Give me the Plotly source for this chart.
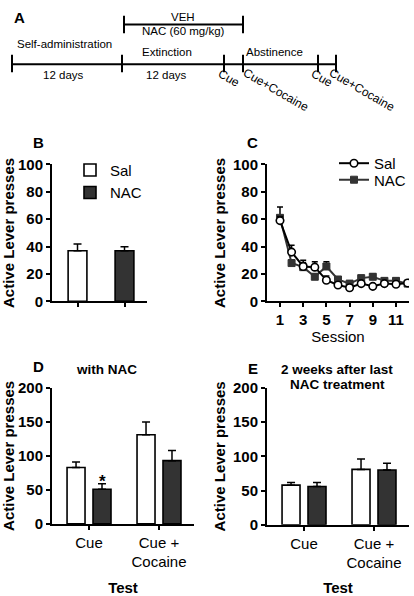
import plotly.graph_objects as go

W, H = 414, 596
FONT = "Liberation Sans, Arial, sans-serif"
DARK = "#333333"

# ---------------- data ----------------
b_groups = ["Sal", "NAC"]
b_means = [37, 37]
b_errs = [5, 3]

sessions = list(range(1, 13))
c_sal = [59, 36, 25.5, 25, 15.5, 12, 10, 13, 11, 13, 12.5, 13.5]
c_sal_err = [3, 5, 3, 4, 3, 2, 2, 1.5, 1.5, 1.5, 1.5, 1.5]
c_nac = [61, 28, 25, 18, 25.5, 16, 13, 17, 18, 15, 15, 13]
c_nac_err = [8, 2, 5, 2, 3.5, 2, 1.5, 2, 2, 2, 2, 1.5]

test_cats = ["Cue", "Cue + Cocaine"]
test_ticktext = ["Cue", "Cue +<br>Cocaine"]
d_sal = [83, 131]
d_sal_err = [8, 19]
d_nac = [51, 93]
d_nac_err = [8, 15]
e_sal = [58, 81]
e_sal_err = [4, 15]
e_nac = [56, 80]
e_nac_err = [6, 10]

y_ticks_b = [0, 20, 40, 60, 80, 100]
y_ticks_d = [0, 50, 100, 150, 200]
x_ticks_c = [1, 3, 5, 7, 9, 11]


def px(x):
    return x / W


def py(y):
    return 1 - y / H


fig = go.Figure()

err_style = dict(type="data", symmetric=False, color="black", thickness=1.5, width=4)

# ---------- Panel B ----------
bw_b = 0.40
fig.add_trace(go.Bar(x=[b_groups[0]], y=[b_means[0]], name="Sal", width=bw_b, offset=-bw_b / 2,
                     marker=dict(color="white", line=dict(color="black", width=1.6)),
                     error_y=dict(err_style, array=[b_errs[0]], arrayminus=[0]),
                     xaxis="x", yaxis="y", legend="legend"))
fig.add_trace(go.Bar(x=[b_groups[1]], y=[b_means[1]], name="NAC", width=bw_b, offset=-bw_b / 2,
                     marker=dict(color=DARK, line=dict(color="black", width=1.6)),
                     error_y=dict(err_style, array=[b_errs[1]], arrayminus=[0]),
                     xaxis="x", yaxis="y", legend="legend"))

# ---------- Panel C ----------
fig.add_trace(go.Scatter(x=sessions, y=c_nac, name="NAC", mode="lines+markers",
                         line=dict(color=DARK, width=2),
                         marker=dict(symbol="square", size=7, color=DARK, line=dict(color=DARK, width=1)),
                         error_y=dict(err_style, array=c_nac_err, arrayminus=[0] * 12, width=3),
                         xaxis="x2", yaxis="y2", legend="legend3"))
fig.add_trace(go.Scatter(x=sessions, y=c_sal, name="Sal", mode="lines+markers",
                         line=dict(color="black", width=2),
                         marker=dict(symbol="circle", size=7.5, color="white", line=dict(color="black", width=1.6)),
                         error_y=dict(err_style, array=c_sal_err, arrayminus=[0] * 12, width=3),
                         xaxis="x2", yaxis="y2", legend="legend2"))

# ---------- Panels D & E ----------
bw = 0.257
for (sal, sal_e, nac, nac_e, xa, ya) in [(d_sal, d_sal_err, d_nac, d_nac_err, "x3", "y3"),
                                         (e_sal, e_sal_err, e_nac, e_nac_err, "x4", "y4")]:
    fig.add_trace(go.Bar(x=test_cats, y=sal, name="Sal", width=bw, offset=-0.314, showlegend=False,
                         marker=dict(color="white", line=dict(color="black", width=1.6)),
                         error_y=dict(err_style, array=sal_e, arrayminus=[0, 0]),
                         xaxis=xa, yaxis=ya))
    fig.add_trace(go.Bar(x=test_cats, y=nac, name="NAC", width=bw, offset=0.057, showlegend=False,
                         marker=dict(color=DARK, line=dict(color="black", width=1.6)),
                         error_y=dict(err_style, array=nac_e, arrayminus=[0, 0]),
                         xaxis=xa, yaxis=ya))

# ---------- axes ----------
axis_common = dict(showline=True, linecolor="black", linewidth=2, ticks="outside", ticklen=4,
                   tickwidth=2, tickcolor="black", showgrid=False, zeroline=False, fixedrange=True)
ytick_font = dict(family=FONT, size=15, color="black", weight="bold")
ytitle_font = dict(family=FONT, size=15, color="black", weight="bold")
leg_common = dict(xanchor="left", yanchor="top", bgcolor="rgba(0,0,0,0)", font=dict(family=FONT, size=15))

fig.update_layout(
    width=W, height=H, margin=dict(l=0, r=0, t=0, b=0),
    paper_bgcolor="white", plot_bgcolor="white",
    barmode="overlay",
    font=dict(family=FONT, color="black"),
    xaxis=dict(axis_common, domain=[px(52), px(147)], range=[-0.543, 1.479], type="category",
               showticklabels=False, anchor="y"),
    yaxis=dict(axis_common, domain=[py(301), py(160)], range=[0, 100], tickvals=y_ticks_b,
               tickfont=ytick_font, title=dict(text="Active Lever presses", font=ytitle_font, standoff=4),
               anchor="x"),
    xaxis2=dict(axis_common, domain=[px(267), px(409)], range=[-0.12, 12.12], tickvals=x_ticks_c,
                tickfont=ytick_font, title=dict(text="Session", font=dict(family=FONT, size=15), standoff=0),
                anchor="y2"),
    yaxis2=dict(axis_common, domain=[py(301), py(160)], range=[0, 100], tickvals=y_ticks_b,
                tickfont=ytick_font, title=dict(text="Active Lever presses", font=ytitle_font, standoff=4),
                anchor="x2"),
    xaxis3=dict(axis_common, domain=[px(52), px(194)], range=[-0.529, 1.5], type="category",
                tickvals=test_cats, ticktext=test_ticktext, tickfont=dict(family=FONT, size=15),
                title=dict(text="Test", font=ytitle_font, standoff=13), anchor="y3"),
    yaxis3=dict(axis_common, domain=[py(530), py(390)], range=[0, 200], tickvals=y_ticks_d,
                tickfont=ytick_font, title=dict(text="Active Lever presses", font=ytitle_font, standoff=4),
                anchor="x3"),
    xaxis4=dict(axis_common, domain=[px(267), px(409)], range=[-0.529, 1.5], type="category",
                tickvals=test_cats, ticktext=test_ticktext, tickfont=dict(family=FONT, size=15),
                title=dict(text="Test", font=ytitle_font, standoff=13), anchor="y4"),
    yaxis4=dict(axis_common, domain=[py(531), py(390)], range=[0, 200], tickvals=y_ticks_d,
                tickfont=ytick_font, title=dict(text="Active Lever presses", font=ytitle_font, standoff=4),
                anchor="x4"),
    legend=dict(leg_common, x=px(70), y=py(149), tracegroupgap=0),
    legend2=dict(leg_common, x=px(334), y=py(142)),
    legend3=dict(leg_common, x=px(334), y=py(159)),
)

# ---------- annotations ----------
ann = []


def text(x, y, s, size=11.5, bold=False, xanchor="center", yanchor="middle", angle=0):
    ann.append(dict(x=px(x), y=py(y), xref="paper", yref="paper", text=s, showarrow=False,
                    xanchor=xanchor, yanchor=yanchor, textangle=angle,
                    font=dict(family=FONT, size=size, color="black", weight="bold" if bold else "normal")))


# panel letters
text(19, 9, "A", 15, True)
text(38, 137, "B", 15, True)
text(252, 137, "C", 15, True)
text(38, 368, "D", 15, True)
text(253, 370, "E", 15, True)
# titles
text(107, 371, "with NAC", 13.5, True)
text(337, 371, "2 weeks after last", 13.5, True)
text(337, 387, "NAC treatment", 13.5, True)
# star
ann.append(dict(x=test_cats[0], y=d_nac[0] + d_nac_err[0], xref="x3", yref="y3", text="*", showarrow=False,
                xshift=13, yshift=-9, yanchor="bottom",
                font=dict(family=FONT, size=17, color="black", weight="bold")))

# panel A timeline texts
text(183, 8, "VEH")
text(183, 23, "NAC (60 mg/kg)")
text(15, 36, "Self-administration", xanchor="left")
text(63, 68, "12 days")
text(167, 44, "Extinction")
text(166.5, 68, "12 days")
text(274.5, 44, "Abstinence")
text(213, 56, "Cue", 12, xanchor="left", yanchor="top", angle=30)
text(238, 56, "Cue+Cocaine", 12, xanchor="left", yanchor="top", angle=30)
text(306, 56, "Cue", 12, xanchor="left", yanchor="top", angle=30)
text(324, 56, "Cue+Cocaine", 12, xanchor="left", yanchor="top", angle=30)

shapes = []


def seg(x0, y0, x1, y1, w=2):
    shapes.append(dict(type="line", xref="paper", yref="paper", x0=px(x0), y0=py(y0), x1=px(x1), y1=py(y1),
                       line=dict(color="black", width=w)))


seg(12, 57, 336, 57)
for tx in [12, 122, 224, 243, 318, 336]:
    seg(tx, 47, tx, 65)
seg(124, 16, 243, 16)
for tx in [124, 243]:
    seg(tx, 7, tx, 25)

fig.update_layout(annotations=ann, shapes=shapes)
fig.write_html("out.html", config={"displayModeBar": False},
               post_script="document.body.style.margin='0';document.body.style.padding='0';"
                           "document.body.style.overflow='hidden';")
